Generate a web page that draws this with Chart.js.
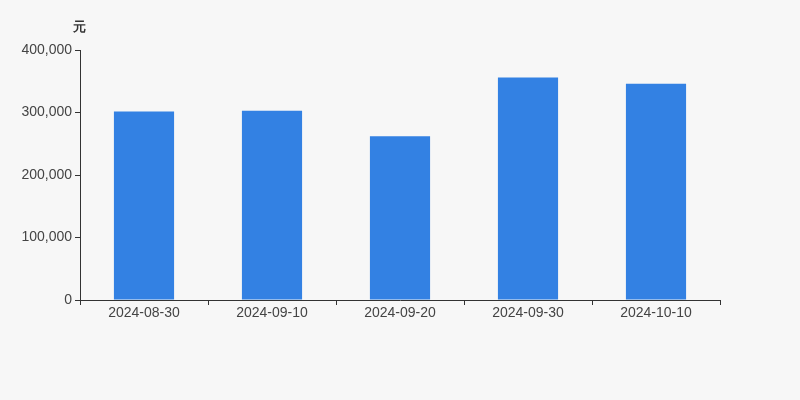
<!DOCTYPE html>
<html>
<head>
<meta charset="utf-8">
<script src="https://cdn.jsdelivr.net/npm/chart.js@4"></script>
<style>
html,body{margin:0;padding:0;background:#f7f7f7;}
#wrap{width:800px;height:400px;position:relative;}
</style>
</head>
<body>
<div id="wrap"><canvas id="c" width="800" height="400"></canvas></div>
<script>
const categories = ['2024-08-30', '2024-09-10', '2024-09-20', '2024-09-30', '2024-10-10'];
const values = [301500, 303000, 262000, 356000, 346000];
const yTicks = [0, 100000, 200000, 300000, 400000];
const unitLabel = '元';

const FONT = "'Liberation Sans', Arial, sans-serif";

const unitPlugin = {
  id: 'unit',
  afterDraw(chart) {
    const ctx = chart.ctx;
    const y = chart.scales.y;
    ctx.save();
    ctx.font = 'bold 13px ' + FONT;
    ctx.fillStyle = '#333';
    ctx.textAlign = 'center';
    ctx.textBaseline = 'middle';
    ctx.fillText(unitLabel, y.right - 1, chart.chartArea.top - 23);
    ctx.restore();
  }
};

new Chart(document.getElementById('c'), {
  type: 'bar',
  data: {
    labels: categories,
    datasets: [{
      data: values,
      backgroundColor: '#3381e3',
      categoryPercentage: 1,
      barPercentage: 0.47
    }]
  },
  options: {
    responsive: false,
    animation: false,
    devicePixelRatio: 1,
    layout: { padding: { top: 50, right: 80, left: 0, bottom: 0 } },
    plugins: { legend: { display: false }, tooltip: { enabled: false } },
    scales: {
      x: {
        offset: true,
        afterFit(s) { s.height = 100; },
        grid: { display: true, offset: true, drawOnChartArea: false, tickLength: 5, color: '#333' },
        border: { display: true, color: '#333', width: 1 },
        ticks: { color: '#444', font: { size: 14, family: FONT }, padding: 0, maxRotation: 0 }
      },
      y: {
        min: 0, max: 400000,
        afterFit(s) { s.width = 80; },
        afterBuildTicks(s) { s.ticks = yTicks.map(v => ({ value: v })); },
        grid: { display: true, drawOnChartArea: false, tickLength: 5, color: '#333' },
        border: { display: true, color: '#333', width: 1 },
        ticks: {
          color: '#444', font: { size: 14, family: FONT }, padding: 3,
          callback: v => v.toLocaleString('en-US')
        }
      }
    }
  },
  plugins: [unitPlugin]
});
</script>
</body>
</html>
